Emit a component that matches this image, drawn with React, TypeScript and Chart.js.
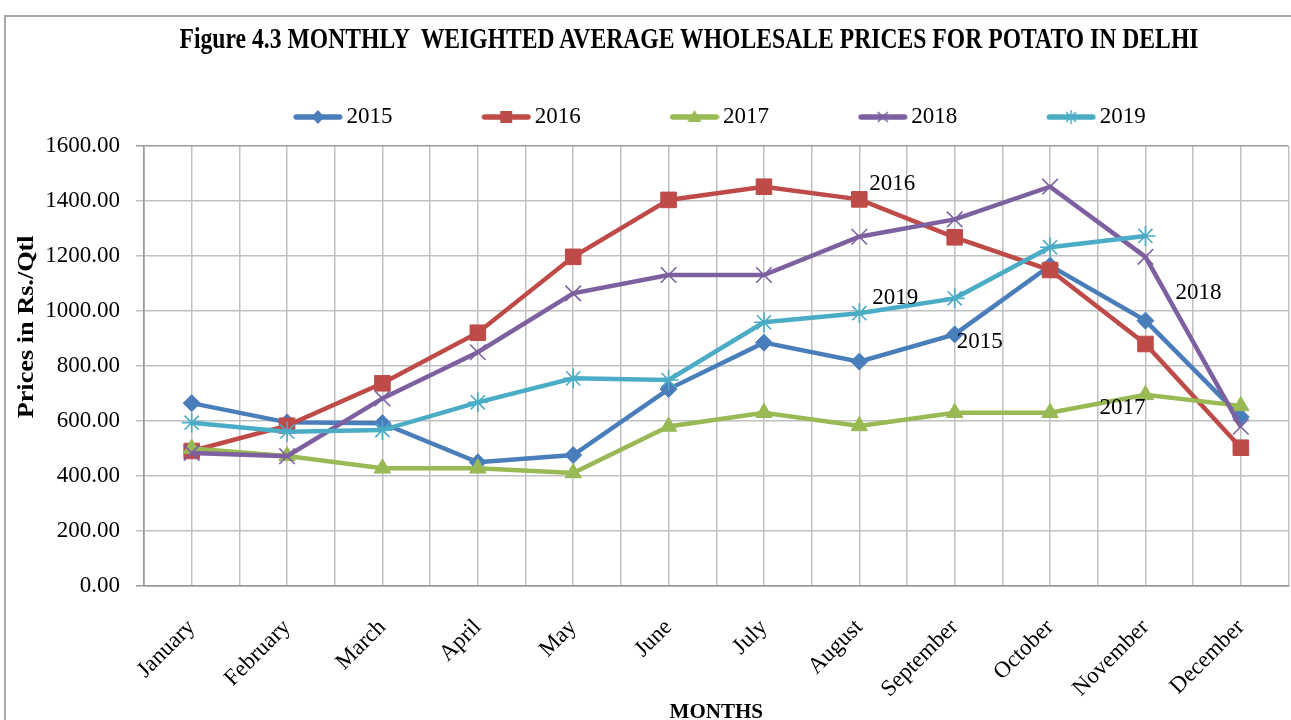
import React, { useEffect, useRef, useMemo } from 'react';
import { Chart, registerables } from 'chart.js';

Chart.register(...registerables);

const TITLE = 'Figure 4.3 MONTHLY  WEIGHTED AVERAGE WHOLESALE PRICES FOR POTATO IN DELHI';
const X_TITLE = 'MONTHS';
const Y_TITLE = 'Prices in Rs./Qtl';

const MONTHS = ['January', 'February', 'March', 'April', 'May', 'June', 'July', 'August', 'September', 'October', 'November', 'December'];
const SERIES_NAMES = ['2015', '2016', '2017', '2018', '2019'];

const PRICES_2015 = [665, 595, 592, 450, 476, 716, 885, 816, 915, 1165, 965, 615];
const PRICES_2016 = [491, 583, 737, 921, 1197, 1404, 1452, 1406, 1268, 1149, 880, 503];
const PRICES_2017 = [500, 473, 428, 428, 411, 580, 630, 582, 630, 630, 695, 655];
const PRICES_2018 = [484, 472, 682, 850, 1064, 1131, 1131, 1270, 1333, 1452, 1197, 579];
const PRICES_2019 = [594, 561, 567, 668, 755, 749, 959, 992, 1046, 1232, 1273, null];

const Y_MIN = 0;
const Y_MAX = 1600;
const Y_STEP = 200;

const SERIES_VALUES = [PRICES_2015, PRICES_2016, PRICES_2017, PRICES_2018, PRICES_2019];
const COLORS = ['#4A7EBB', '#BE4B48', '#98B954', '#7D60A0', '#4BACC6'];
const MARKERS = ['rectRot', 'rect', 'triangle', 'crossRot', 'star'];
const MARKER_RADIUS = [8.5, 11, 9.5, 11, 10];
const MARKER_BORDER = [1, 1, 1, 1.6, 1.6];

const SERIF = "'Liberation Serif', 'DejaVu Serif', serif";
const GRID = '#c0c0c0';
const EDGE = '#9a9a9a';

function makeSymbol(color: string, marker: string): HTMLCanvasElement {
  const c = document.createElement('canvas');
  c.width = 64;
  c.height = 24;
  const g = c.getContext('2d')!;
  const cy = 12;
  const x0 = 14.5;
  const len = 49;
  const cx = x0 + len / 2;
  g.strokeStyle = color;
  g.fillStyle = color;
  g.lineWidth = 5.5;
  g.lineCap = 'round';
  g.beginPath();
  g.moveTo(x0 + 2.75, cy);
  g.lineTo(x0 + len - 2.75, cy);
  g.stroke();
  g.lineCap = 'butt';
  g.lineWidth = 1.5;
  g.beginPath();
  if (marker === 'rectRot') {
    g.moveTo(cx, cy - 7);
    g.lineTo(cx + 6.5, cy);
    g.lineTo(cx, cy + 7);
    g.lineTo(cx - 6.5, cy);
    g.closePath();
    g.fill();
  } else if (marker === 'rect') {
    g.rect(cx - 6, cy - 6, 12, 12);
    g.fill();
  } else if (marker === 'triangle') {
    g.moveTo(cx, cy - 7);
    g.lineTo(cx + 7, cy + 5);
    g.lineTo(cx - 7, cy + 5);
    g.closePath();
    g.fill();
  } else if (marker === 'crossRot') {
    g.moveTo(cx - 5, cy - 5);
    g.lineTo(cx + 5, cy + 5);
    g.moveTo(cx + 5, cy - 5);
    g.lineTo(cx - 5, cy + 5);
    g.stroke();
  } else {
    g.moveTo(cx - 5, cy - 5);
    g.lineTo(cx + 5, cy + 5);
    g.moveTo(cx + 5, cy - 5);
    g.lineTo(cx - 5, cy + 5);
    g.moveTo(cx, cy - 7);
    g.lineTo(cx, cy + 7);
    g.stroke();
  }
  return c;
}

const annotationPlugin = {
  id: 'annotations',
  afterDatasetsDraw(chart: any, _args: any, opts: any) {
    const ctx = chart.ctx;
    ctx.save();
    ctx.fillStyle = '#000';
    ctx.font = `23px ${SERIF}`;
    ctx.textAlign = 'left';
    ctx.textBaseline = 'middle';
    (opts.labels || []).forEach((l: any) => {
      const pt = chart.getDatasetMeta(l.series).data[l.index];
      if (!pt) return;
      ctx.fillText(SERIES_NAMES[l.series], pt.x + l.dx, pt.y + l.dy);
    });
    ctx.restore();
  },
  afterDraw(chart: any, _args: any, opts: any) {
    const ctx = chart.ctx;
    const area = chart.chartArea;
    ctx.save();
    ctx.fillStyle = '#000';
    ctx.font = `bold 23px ${SERIF}`;
    ctx.textAlign = 'center';
    ctx.textBaseline = 'middle';
    const w = ctx.measureText(Y_TITLE).width;
    const sx = opts.yTitleLength / w;
    ctx.translate(opts.yTitleX, area.top + (area.bottom - area.top) * opts.yTitleFrac);
    ctx.rotate(-Math.PI / 2);
    ctx.scale(sx, 1);
    ctx.fillText(Y_TITLE, 0, 0);
    ctx.restore();
  },
};

export default function App() {
  const canvasRef = useRef<HTMLCanvasElement | null>(null);

  const titleScale = useMemo(() => {
    const c = document.createElement('canvas').getContext('2d')!;
    c.font = `bold 30px ${SERIF}`;
    return 1022 / c.measureText(TITLE).width;
  }, []);

  useEffect(() => {
    if (!canvasRef.current) return;
    const symbols = COLORS.map((c, i) => makeSymbol(c, MARKERS[i]));
    const chart = new Chart(canvasRef.current, {
      type: 'line',
      data: {
        labels: MONTHS,
        datasets: SERIES_VALUES.map((vals, i) => ({
          label: SERIES_NAMES[i],
          data: vals,
          borderColor: COLORS[i],
          backgroundColor: COLORS[i],
          borderWidth: 4.5,
          pointStyle: MARKERS[i] as any,
          pointRadius: MARKER_RADIUS[i],
          pointBackgroundColor: COLORS[i],
          pointBorderColor: COLORS[i],
          pointBorderWidth: MARKER_BORDER[i],
          tension: 0,
          fill: false,
          order: SERIES_VALUES.length - i,
        })),
      },
      options: {
        responsive: false,
        animation: false,
        layout: { autoPadding: false, padding: { top: 22.8, left: 0, right: 2.5, bottom: 0 } },
        plugins: {
          title: { display: false },
          tooltip: { enabled: false },
          legend: {
            display: true,
            position: 'top',
            fullSize: false,
            labels: {
              usePointStyle: true,
              pointStyleWidth: 48.1,
              padding: 82.7,
              color: '#000',
              font: { family: SERIF, size: 23 },
              sort: (a: any, b: any) => a.datasetIndex - b.datasetIndex,
              generateLabels: (ch: any) => {
                const items = (Chart.defaults.plugins.legend.labels as any).generateLabels(ch);
                return items.map((it: any) => ({ ...it, pointStyle: symbols[it.datasetIndex], fontColor: '#000' }));
              },
            },
          },
          annotations: {
            labels: [
              { series: 1, index: 7, dx: 10, dy: -15 },
              { series: 4, index: 7, dx: 13, dy: -15 },
              { series: 0, index: 8, dx: 2, dy: 8 },
              { series: 3, index: 10, dx: 30, dy: 36 },
              { series: 2, index: 10, dx: -46, dy: 13 },
            ],
            yTitleX: 27.5,
            yTitleFrac: 0.411,
            yTitleLength: 183,
          },
        } as any,
        scales: {
          x: {
            type: 'category',
            position: 'bottom',
            offset: true,
            grid: { offset: false, color: GRID, lineWidth: 1.5, drawTicks: false },
            border: { color: EDGE, width: 1.5 },
            ticks: {
              minRotation: 45,
              maxRotation: 45,
              autoSkip: false,
              padding: 28,
              color: '#000',
              font: { family: SERIF, size: 23 },
            },
            title: {
              display: true,
              text: X_TITLE,
              color: '#000',
              padding: 0,
              font: { family: SERIF, size: 21, weight: 'bold', lineHeight: 0.75 },
            },
            afterFit: (s: any) => { s.height = 134; s.paddingLeft = 0; s.paddingRight = 0; },
          },
          x2: {
            type: 'category',
            labels: MONTHS,
            position: 'top',
            offset: true,
            grid: {
              offset: true,
              color: (c: any) => (c.index === 0 || c.index === MONTHS.length ? EDGE : GRID),
              lineWidth: 1.5,
              drawTicks: false,
            },
            border: { display: false },
            ticks: { display: false },
            afterFit: (s: any) => { s.height = 7.5; s.paddingLeft = 0; s.paddingRight = 0; },
          },
          y: {
            type: 'linear',
            min: Y_MIN,
            max: Y_MAX,
            grid: {
              color: (c: any) => (c.tick && (c.tick.value === Y_MIN || c.tick.value === Y_MAX) ? EDGE : GRID),
              lineWidth: 1.5,
              tickLength: 8,
            },
            border: { color: EDGE, width: 1.5 },
            ticks: {
              stepSize: Y_STEP,
              padding: 16,
              color: '#000',
              font: { family: SERIF, size: 23 },
              callback: (v: any) => Number(v).toFixed(2),
            },
            afterFit: (s: any) => { s.width = 144; },
          },
        } as any,
      },
      plugins: [annotationPlugin],
    });
    return () => chart.destroy();
  }, []);

  return (
    <div style={{ position: 'fixed', left: 0, top: 0, width: 1291, height: 720, background: '#fff', overflow: 'hidden' }}>
      <div
        style={{
          position: 'absolute',
          left: 4,
          top: 15,
          width: 1300,
          height: 720,
          borderTop: '2px solid #a8a8a8',
          borderLeft: '2px solid #a8a8a8',
          boxSizing: 'border-box',
        }}
      />
      <canvas ref={canvasRef} width={1291} height={720} style={{ position: 'absolute', left: 0, top: 0 }} />
      <div
        style={{
          position: 'absolute',
          left: 689,
          top: 23,
          whiteSpace: 'pre',
          fontFamily: SERIF,
          fontWeight: 'bold',
          fontSize: 30,
          lineHeight: '30px',
          color: '#000',
          transform: `translateX(-50%) scaleX(${titleScale})`,
          transformOrigin: 'center',
        }}
      >
        {TITLE}
      </div>
    </div>
  );
}
